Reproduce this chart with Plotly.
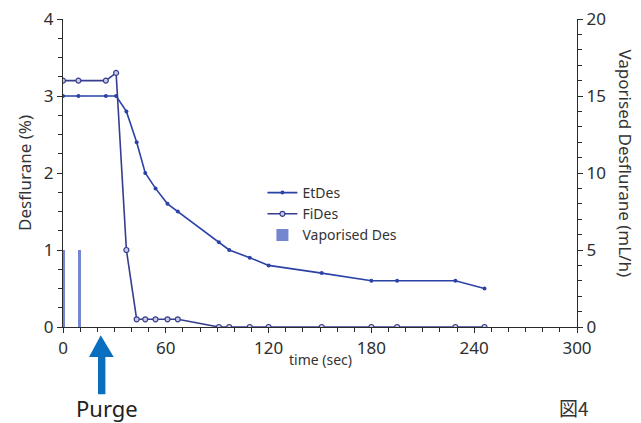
import plotly.graph_objects as go

# ---- data ----
time_sec = [0, 9, 25, 31, 37, 43, 48, 54, 61, 67, 91, 97, 109, 120, 151, 180, 195, 229, 246]
et_des = [3.0, 3.0, 3.0, 3.0, 2.8, 2.4, 2.0, 1.8, 1.6, 1.5, 1.1, 1.0, 0.9, 0.8, 0.7, 0.6, 0.6, 0.6, 0.5]
fi_des = [3.2, 3.2, 3.2, 3.3, 1.0, 0.1, 0.1, 0.1, 0.1, 0.1, 0, 0, 0, 0, 0, 0, 0, 0, 0]
vap_time = [0, 9]
vap_des = [5, 5]
x_ticks = [0, 60, 120, 180, 240, 300]

FONT = "Noto Sans"
AX = "#2b2b2b"

fig = go.Figure()
fig.add_trace(go.Scatter(x=time_sec, y=et_des, name="EtDes", mode="lines+markers",
                         line=dict(color="#2c42a6", width=1.6),
                         marker=dict(color="#2c42a6", size=4)))
fig.add_trace(go.Scatter(x=time_sec, y=fi_des, name="FiDes", mode="lines+markers",
                         line=dict(color="#363d8e", width=1.6),
                         marker=dict(color="#c9cbe0", size=5, line=dict(color="#363d8e", width=1.2))))
fig.add_trace(go.Bar(x=vap_time, y=vap_des, name="Vaporised Des", yaxis="y2",
                     width=1.8, offset=-0.45,
                     marker=dict(color="#7585cf", line=dict(width=0))))

axis_common = dict(showline=True, linecolor=AX, linewidth=1.3, ticks="outside",
                   tickcolor=AX, ticklen=5, tickwidth=1.2, showgrid=False, zeroline=False,
                   automargin=False, layer="below traces",
                   tickfont=dict(family=FONT, size=17, color="#2e2e2e"))

fig.update_layout(
    width=641, height=423,
    margin=dict(l=63, r=64, t=19, b=96, autoexpand=False),
    paper_bgcolor="white", plot_bgcolor="white",
    font=dict(family=FONT, color="#333"),
    showlegend=True,
    legend=dict(x=0.388, y=0.487, xanchor="left", yanchor="top",
                font=dict(family=FONT, size=14, color="#333"),
                bgcolor="rgba(0,0,0,0)", tracegroupgap=0, itemwidth=30),
    xaxis=dict(range=[0, 300], tickvals=x_ticks,
               minor=dict(dtick=10, ticks="outside", ticklen=4, tickcolor=AX),
               **axis_common),
    yaxis=dict(range=[0, 4], dtick=1,
               minor=dict(dtick=0.25, ticks="outside", ticklen=4, tickcolor=AX),
               **axis_common),
    yaxis2=dict(range=[0, 20], dtick=5, overlaying="y", side="right",
                minor=dict(dtick=1, ticks="outside", ticklen=4, tickcolor=AX),
                **axis_common),
    bargap=0,
)

# axis titles
fig.add_annotation(text="Desflurane (%)", xref="paper", yref="paper", x=-0.076, y=0.5,
                   xanchor="center", yanchor="middle",
                   textangle=-90, showarrow=False, font=dict(family=FONT, size=17, color="#333"))
fig.add_annotation(text="Vaporised Desflurane (mL/h)", xref="paper", yref="paper", x=1.094, y=0.53,
                   xanchor="center", yanchor="middle",
                   textangle=90, showarrow=False, font=dict(family=FONT, size=17, color="#333"))
fig.add_annotation(text="time (sec)", xref="paper", yref="paper", x=0.5, y=-0.106,
                   xanchor="center", yanchor="middle",
                   showarrow=False, font=dict(family=FONT, size=14, color="#333"))

# purge arrow
fig.add_shape(type="path", xref="paper", yref="paper",
              path="M 0.0734,-0.027 L 0.0987,-0.0975 L 0.0825,-0.0975 L 0.0825,-0.2187 "
                   "L 0.0681,-0.2187 L 0.0681,-0.0975 L 0.0506,-0.0975 Z",
              fillcolor="#0b6fc0", line=dict(width=0))
fig.add_annotation(text="Purge", xref="paper", yref="paper", x=0.085, y=-0.262,
                   xanchor="center", yanchor="middle",
                   showarrow=False, font=dict(family=FONT, size=22, color="#222"))
fig.add_annotation(text="図4", xref="paper", yref="paper", x=0.994, y=-0.262,
                   xanchor="center", yanchor="middle",
                   showarrow=False, font=dict(family="Noto Sans CJK JP", size=19, color="#333"))

fig.write_html("out.html", config={"displayModeBar": False},
               post_script="document.body.style.margin='0';document.body.style.overflow='hidden';")
